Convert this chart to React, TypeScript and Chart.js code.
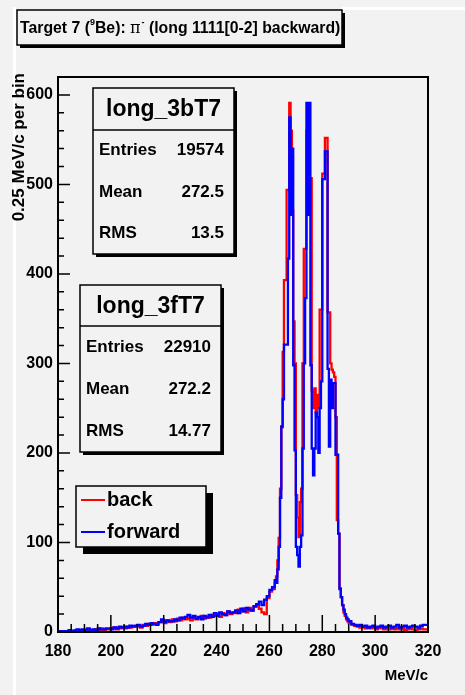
import React, { useEffect, useRef } from "react";
import { Chart, registerables } from "chart.js";

Chart.register(...registerables);

const FONT = "'Liberation Sans', Arial, Helvetica, sans-serif";

// x range (MeV/c) and tick labels
const xTicks = [180, 200, 220, 240, 260, 280, 300, 320];
const yTicks = [0, 100, 200, 300, 400, 500, 600];
const Y_MAX = 620;

// Low tail: 1 MeV bins starting at 180
const lowStart = 180;
const backLow = [
  0, 0, 1, 0, 1, 0, 1, 2, 1, 1,
  2, 1, 3, 2, 2, 3, 2, 4, 2, 3,
  3, 4, 5, 3, 4, 5, 4, 6, 5, 6,
  6, 7, 5, 8, 7, 9, 8, 10, 9, 11,
  12, 10, 13, 11, 14, 12, 15, 13, 16, 14,
  15, 13, 17, 14, 16, 18, 15, 17, 16, 19,
  18, 20, 17, 21, 19, 23, 20, 22, 21, 25,
  23, 26, 22, 27, 24, 28, 30, 26, 22, 20,
  38, 45,
];
const forwardLow = [
  0, 1, 0, 1, 0, 2, 1, 1, 3, 2,
  3, 2, 4, 1, 3, 2, 4, 3, 3, 4,
  4, 3, 5, 4, 6, 5, 6, 5, 7, 6,
  7, 8, 6, 7, 9, 8, 10, 9, 8, 11,
  14, 11, 13, 12, 12, 14, 13, 16, 15, 17,
  19, 16, 18, 15, 17, 14, 18, 16, 19, 17,
  21, 18, 22, 20, 19, 23, 21, 22, 24, 21,
  26, 23, 27, 25, 24, 29, 31, 34, 30, 36,
  40, 47,
];

// Peak region: 0.5 MeV bins starting at 262
const peakStart = 262;
const peakWidth = 0.5;
const backPeak = [
  48, 55, 62, 80, 105, 160, 230, 313, 393, 393,
  494, 494, 591, 560, 471, 347, 300, 153, 128, 106,
  145, 160, 300, 428, 428, 560, 590, 507, 507, 270,
  250, 272, 245, 265, 250, 360, 360, 512, 512, 552,
  552, 357, 357, 300, 293, 290, 285, 240, 125, 110,
  49, 39, 30, 22, 18, 14,
];
const forwardPeak = [
  50, 58, 55, 70, 95, 150, 229, 260, 321, 321,
  321, 417, 575, 466, 540, 298, 203, 95, 86, 73,
  95, 108, 205, 300, 373, 591, 466, 591, 298, 205,
  175, 205, 245, 240, 200, 250, 280, 506, 506, 537,
  537, 294, 207, 282, 250, 278, 278, 198, 198, 110,
  48, 39, 30, 25, 20, 16,
];

// High tail: 1 MeV bins starting at 290
const highStart = 290;
const backHigh = [
  12, 10, 8, 7, 6, 5, 6, 4, 5, 4,
  5, 3, 4, 5, 3, 4, 3, 4, 3, 4,
  3, 4, 2, 3, 4, 3, 2, 3, 4, 3,
];
const forwardHigh = [
  14, 12, 9, 8, 7, 8, 6, 7, 5, 6,
  7, 5, 6, 7, 5, 6, 7, 5, 6, 8,
  5, 6, 7, 5, 6, 7, 6, 5, 7, 8,
];

const titleParts = ["Target 7 (", "9", "Be): ", "π", "-", " (long 1111[0-2] backward)"];
const statLabels = ["Entries", "Mean", "RMS"];
const backStats = ["long_3bT7", "19574", "272.5", "13.5"];
const forwardStats = ["long_3fT7", "22910", "272.2", "14.77"];
const legendLabels = ["back", "forward"];
const RED = "#ff0000";
const BLUE = "#0000ff";
const BG = "#f2f2f2";

function buildSteps(low: number[], peak: number[], high: number[]) {
  const pts: { x: number; y: number }[] = [];
  low.forEach((v, i) => pts.push({ x: lowStart + i, y: v }));
  peak.forEach((v, i) => pts.push({ x: peakStart + peakWidth * i, y: v }));
  high.forEach((v, i) => pts.push({ x: highStart + i, y: v }));
  pts.push({ x: xTicks[xTicks.length - 1], y: high[high.length - 1] });
  return pts;
}

function drawBox(ctx: CanvasRenderingContext2D, x: number, y: number, w: number, h: number, sh: number) {
  ctx.fillStyle = "#000";
  ctx.fillRect(x + sh, y + sh, w, h);
  ctx.fillStyle = BG;
  ctx.fillRect(x, y, w, h);
  ctx.strokeStyle = "#000";
  ctx.lineWidth = 1.5;
  ctx.strokeRect(x, y, w, h);
}

function drawStats(ctx: CanvasRenderingContext2D, x: number, y: number, w: number, h: number, headH: number, stats: string[]) {
  drawBox(ctx, x, y, w, h, 3);
  ctx.beginPath();
  ctx.moveTo(x, y + headH);
  ctx.lineTo(x + w, y + headH);
  ctx.stroke();
  ctx.fillStyle = "#000";
  ctx.textBaseline = "middle";
  ctx.font = `bold 23px ${FONT}`;
  ctx.textAlign = "center";
  ctx.fillText(stats[0], x + w / 2, y + headH / 2 + 1);
  ctx.font = `bold 17px ${FONT}`;
  const rowH = (h - headH) / 3;
  statLabels.forEach((lab, i) => {
    const ry = y + headH + rowH * (i + 0.5);
    ctx.textAlign = "left";
    ctx.fillText(lab, x + 6, ry);
    ctx.textAlign = "right";
    ctx.fillText(stats[i + 1], x + w - 10, ry);
  });
}

const decorPlugin = {
  id: "decor",
  beforeDraw(chart: any) {
    const ctx = chart.ctx as CanvasRenderingContext2D;
    ctx.save();
    ctx.fillStyle = BG;
    ctx.fillRect(0, 0, chart.width, chart.height);
    ctx.fillStyle = "#ffffff";
    ctx.fillRect(13, 7, 3, chart.height);
    ctx.fillRect(342, 7, chart.width - 342, 3);
    ctx.restore();
  },
  afterDraw(chart: any) {
    const ctx = chart.ctx as CanvasRenderingContext2D;
    const { left, right, top, bottom } = chart.chartArea;
    const xs = chart.scales.x;
    const ys = chart.scales.y;
    ctx.save();
    // frame
    ctx.strokeStyle = "#000";
    ctx.lineWidth = 2;
    ctx.strokeRect(left, top, right - left, bottom - top);
    // inward ticks
    ctx.lineWidth = 1.5;
    ctx.beginPath();
    for (let v = 0; v <= Y_MAX; v += 20) {
      const py = ys.getPixelForValue(v);
      const len = v % 100 === 0 ? 12 : 6;
      ctx.moveTo(left, py);
      ctx.lineTo(left + len, py);
    }
    for (let v = xTicks[0]; v <= xTicks[xTicks.length - 1]; v += 5) {
      const px = xs.getPixelForValue(v);
      const len = v % 20 === 0 ? 17 : 8;
      ctx.moveTo(px, bottom);
      ctx.lineTo(px, bottom - len);
    }
    ctx.stroke();
    // axis titles
    ctx.fillStyle = "#000";
    ctx.font = `bold 15px ${FONT}`;
    ctx.textAlign = "right";
    ctx.textBaseline = "middle";
    ctx.fillText("MeV/c", right, 676);
    ctx.save();
    ctx.translate(19, 73);
    ctx.rotate(-Math.PI / 2);
    ctx.font = `bold 17px ${FONT}`;
    ctx.textAlign = "right";
    ctx.fillText("0.25 MeV/c per bin", 0, 0);
    ctx.restore();

    // title box
    drawBox(ctx, 17, 10, 325, 35, 3);
    ctx.fillStyle = "#000";
    ctx.textAlign = "left";
    ctx.textBaseline = "middle";
    let tx = 20;
    const ty = 29;
    const big = `bold 15.8px ${FONT}`;
    const small = `bold 9px ${FONT}`;
    const fonts = [big, small, big, `16px 'DejaVu Serif', serif`, small, big];
    const dy = [0, -6, 0, 0, -6, 0];
    titleParts.forEach((p, i) => {
      ctx.font = fonts[i];
      ctx.fillText(p, tx, ty + dy[i]);
      tx += ctx.measureText(p).width + (i === 3 ? 1 : 0);
    });

    // stat boxes
    drawStats(ctx, 93, 88, 141, 166, 42, backStats);
    drawStats(ctx, 80, 285, 141, 167, 41, forwardStats);

    // legend
    drawBox(ctx, 76, 486, 130, 61, 7);
    ctx.lineWidth = 2;
    [RED, BLUE].forEach((c, i) => {
      const ly = 500 + i * 32;
      ctx.strokeStyle = c;
      ctx.beginPath();
      ctx.moveTo(81, ly);
      ctx.lineTo(105, ly);
      ctx.stroke();
      ctx.fillStyle = "#000";
      ctx.font = `bold 20px ${FONT}`;
      ctx.textAlign = "left";
      ctx.fillText(legendLabels[i], 107, ly);
    });
    ctx.restore();
  },
};

export default function App() {
  const ref = useRef<HTMLCanvasElement | null>(null);
  useEffect(() => {
    if (!ref.current) return;
    const chart = new Chart(ref.current, {
      type: "line",
      data: {
        datasets: [
          {
            label: "back",
            data: buildSteps(backLow, backPeak, backHigh),
            borderColor: RED,
            borderWidth: 2.3,
            pointRadius: 0,
            stepped: "after",
            fill: false,
            order: 2,
          },
          {
            label: "forward",
            data: buildSteps(forwardLow, forwardPeak, forwardHigh),
            borderColor: BLUE,
            borderWidth: 2.3,
            pointRadius: 0,
            stepped: "after",
            fill: false,
            order: 1,
          },
        ],
      },
      options: {
        responsive: false,
        animation: false,
        devicePixelRatio: 1,
        layout: { padding: { left: 0, top: 77, right: 37, bottom: 0 } },
        plugins: {
          legend: { display: false },
          tooltip: { enabled: false },
          title: { display: false },
        },
        scales: {
          x: {
            type: "linear",
            min: xTicks[0],
            max: xTicks[xTicks.length - 1],
            afterFit: (s: any) => {
              s.height = 63;
            },
            afterBuildTicks: (s: any) => {
              s.ticks = xTicks.map((v) => ({ value: v }));
            },
            grid: { display: false, drawTicks: false },
            border: { display: false },
            ticks: {
              color: "#000",
              font: { family: FONT, size: 16, weight: "bold" },
              padding: 10,
              maxRotation: 0,
              autoSkip: false,
            },
          },
          y: {
            type: "linear",
            min: 0,
            max: Y_MAX,
            afterFit: (s: any) => {
              s.width = 58;
            },
            afterBuildTicks: (s: any) => {
              s.ticks = yTicks.map((v) => ({ value: v }));
            },
            grid: { display: false, drawTicks: false },
            border: { display: false },
            ticks: {
              color: "#000",
              font: { family: FONT, size: 16, weight: "bold" },
              padding: 5,
              autoSkip: false,
            },
          },
        },
      } as any,
      plugins: [decorPlugin],
    });
    return () => chart.destroy();
  }, []);
  return (
    <div style={{ position: "fixed", left: 0, top: 0, width: 465, height: 695 }}>
      <canvas ref={ref} width={465} height={695} style={{ width: 465, height: 695, display: "block" }} />
    </div>
  );
}
